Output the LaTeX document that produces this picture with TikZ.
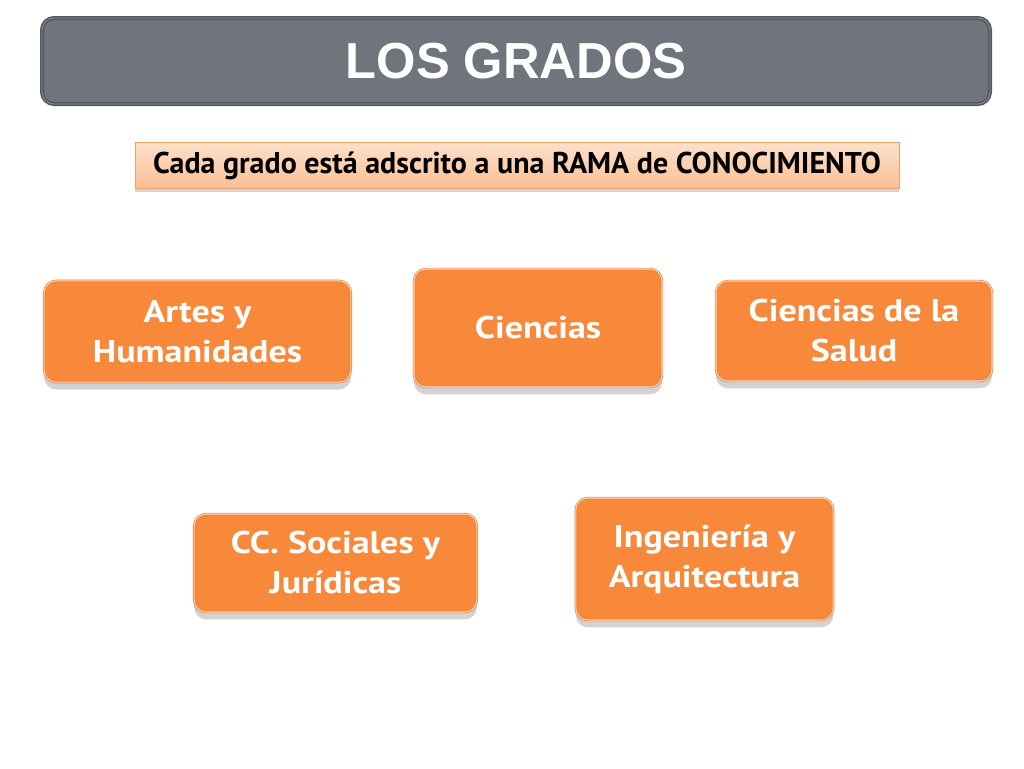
\documentclass[tikz,border=0pt]{standalone}
\usepackage{fontspec}
\setmainfont{PT Sans}
\newfontfamily\titulofont{Liberation Sans}
\newfontfamily\ramafont[FakeStretch=1.15]{PT Sans}
\usepackage{tikz}
\usetikzlibrary{shadows}

\definecolor{rama}{RGB}{249,137,58}
\definecolor{ramaborde}{RGB}{238,120,45}
\definecolor{titulo}{RGB}{112,116,124}
\definecolor{tituloborde}{RGB}{84,87,93}
\definecolor{lema}{RGB}{251,200,162}
\definecolor{lemaborde}{RGB}{240,160,105}

\begin{document}
\begin{tikzpicture}[x=0.75pt,y=-0.75pt,
	rama/.style={draw=ramaborde,fill=rama,double=white!70!rama,double distance=0.8pt,line width=0.5pt,
		rounded corners=9pt,inner sep=0pt,align=center,text=white,font=\ramafont\bfseries\fontsize{23.5}{30}\selectfont,
		preaction={draw=white,line width=6pt},
		drop shadow={shadow xshift=0pt,shadow yshift=-5.5pt,opacity=.35,fill=gray}}]
	\useasboundingbox (0,0) rectangle (1024,768);

	\draw (516,61) node (titulo) [draw=tituloborde,fill=titulo,double=titulo!80!white,double distance=0.6pt,
		line width=1.2pt,rounded corners=9pt,minimum width=711pt,minimum height=64.5pt,text=white,
		font=\titulofont\bfseries\fontsize{38}{40}\selectfont] {\raisebox{-1.5pt}{LOS GRADOS}};

	\draw (517,165.5) node (lema) [draw=lemaborde,top color=lema!55!white,bottom color=lema!85!rama,
		line width=0.6pt,minimum width=573pt,minimum height=35pt,font=\bfseries\fontsize{22.5}{24}\selectfont,
		drop shadow={shadow xshift=0pt,shadow yshift=-2.5pt,opacity=.35,fill=gray}]
		{Cada grado está adscrito a una RAMA de CONOCIMIENTO};

	\draw (197.5,331.5) node (artes) [rama,minimum width=230pt,minimum height=76pt] {Artes y\\Humanidades};
	\draw (538,328) node (ciencias) [rama,minimum width=186pt,minimum height=88.5pt] {Ciencias};
	\draw (854,331) node (salud) [rama,minimum width=207pt,minimum height=75pt] {Ciencias de la\\Salud};
	\draw (335.5,563) node (sociales) [rama,minimum width=212pt,minimum height=73.5pt] {CC. Sociales y\\Jurídicas};
	\draw (704.5,559) node (ingenieria) [rama,minimum width=193pt,minimum height=91.5pt] {Ingeniería y\\Arquitectura};
\end{tikzpicture}
\end{document}
